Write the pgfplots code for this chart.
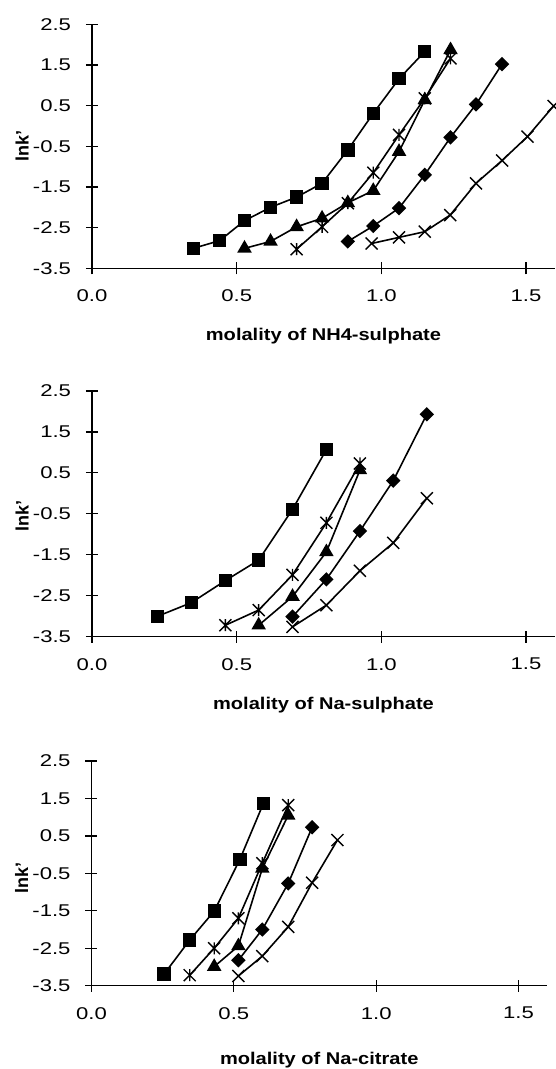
\documentclass[border=0pt]{standalone}
\usepackage{fontspec}
\setmainfont{Liberation Sans}
\usepackage{pgfplots}
\pgfplotsset{compat=1.18}

% plain cross and cross-with-bar marks
\pgfdeclareplotmark{xc}{%
  \pgfpathmoveto{\pgfqpoint{-\pgfplotmarksize}{-\pgfplotmarksize}}%
  \pgfpathlineto{\pgfqpoint{\pgfplotmarksize}{\pgfplotmarksize}}%
  \pgfpathmoveto{\pgfqpoint{-\pgfplotmarksize}{\pgfplotmarksize}}%
  \pgfpathlineto{\pgfqpoint{\pgfplotmarksize}{-\pgfplotmarksize}}%
  \pgfusepathqstroke}
\pgfdeclareplotmark{xs}{%
  \pgfpathmoveto{\pgfqpoint{-\pgfplotmarksize}{-\pgfplotmarksize}}%
  \pgfpathlineto{\pgfqpoint{\pgfplotmarksize}{\pgfplotmarksize}}%
  \pgfpathmoveto{\pgfqpoint{-\pgfplotmarksize}{\pgfplotmarksize}}%
  \pgfpathlineto{\pgfqpoint{\pgfplotmarksize}{-\pgfplotmarksize}}%
  \pgfpathmoveto{\pgfqpoint{0pt}{-\pgfplotmarksize}}%
  \pgfpathlineto{\pgfqpoint{0pt}{\pgfplotmarksize}}%
  \pgfusepathqstroke}

\newcommand{\tickfont}{\fontsize{17}{19}\selectfont}
\newcommand{\labfont}{\fontsize{17}{19}\selectfont\bfseries}

\pgfplotsset{
  panel/.style={
    scale only axis,
    xmin=0, xmax=1.6, ymin=-3.5, ymax=2.5,
    axis x line=bottom, axis y line=left,
    axis line style={-, line width=1.4pt},
    xtick={0,0.5,1,1.5}, xticklabels={0.0,0.5,1.0,1.5},
    ytick={-3.5,-2.5,-1.5,-0.5,0.5,1.5,2.5},
    yticklabels={-3.5,-2.5,-1.5,-0.5,0.5,1.5,2.5},
    tick align=center, major tick length=12pt,
    tick style={line width=1.2pt, black},
    xticklabel style={font=\tickfont, xscale=1.3, yshift=-12pt},
    yticklabel style={font=\tickfont, xscale=1.3, xshift=-8pt},
    ylabel={lnk'},
    every axis y label/.style={at={(axis description cs:0,0.5)}, xshift=-70pt, rotate=90, anchor=center, font=\fontsize{18}{20}\selectfont\bfseries},
    every axis x label/.style={at={(axis description cs:0.5,0)}, yshift=-68pt, anchor=center, xscale=1.18, font=\labfont},
    clip=false,
    every axis plot/.append style={black, line width=1.6pt, mark options={solid, line width=1.4pt}},
  },
  sq/.style={mark=square*, mark size=6pt},
  tri/.style={mark=triangle*, mark size=7pt},
  dia/.style={mark=square*, mark size=4.3pt, mark options={rotate=45}},
  st/.style={mark=xs, mark size=6pt},
  cr/.style={mark=xc, mark size=6pt},
}

\begin{document}
\begin{tikzpicture}

\begin{axis}[panel, at={(92pt,800.7pt)}, anchor=south west,
  width=463pt, height=244pt, xlabel={molality of NH4-sulphate}]
\addplot[sq] coordinates {(0.350,-3.01)(0.441,-2.82)(0.527,-2.33)(0.617,-2.00)(0.707,-1.75)(0.795,-1.41)(0.884,-0.59)(0.972,0.31)(1.061,1.16)(1.150,1.83)};
\addplot[tri] coordinates {(0.527,-3.01)(0.617,-2.84)(0.707,-2.48)(0.795,-2.27)(0.884,-1.89)(0.972,-1.59)(1.061,-0.63)(1.150,0.64)(1.239,1.87)};
\addplot[st] coordinates {(0.707,-3.03)(0.795,-2.48)(0.884,-1.90)(0.972,-1.15)(1.061,-0.22)(1.150,0.68)(1.239,1.66)};
\addplot[dia] coordinates {(0.884,-2.84)(0.972,-2.46)(1.061,-2.02)(1.150,-1.20)(1.239,-0.28)(1.327,0.53)(1.417,1.52)};
\addplot[cr] coordinates {(0.966,-2.89)(1.061,-2.74)(1.150,-2.60)(1.238,-2.19)(1.327,-1.41)(1.417,-0.85)(1.505,-0.26)(1.595,0.49)};
\end{axis}

\begin{axis}[panel, at={(92pt,432.3pt)}, anchor=south west,
  width=463pt, height=245.7pt, xlabel={molality of Na-sulphate},
  every axis y label/.append style={xshift=-2pt}]
\addplot[sq] coordinates {(0.227,-3.00)(0.343,-2.67)(0.461,-2.13)(0.576,-1.63)(0.693,-0.39)(0.810,1.07)};
\addplot[st] coordinates {(0.461,-3.22)(0.576,-2.85)(0.693,-1.99)(0.810,-0.72)(0.926,0.73)};
\addplot[tri] coordinates {(0.576,-3.22)(0.693,-2.52)(0.810,-1.43)(0.926,0.57)};
\addplot[dia] coordinates {(0.693,-3.01)(0.810,-2.10)(0.926,-0.92)(1.041,0.31)(1.157,1.93)};
\addplot[cr] coordinates {(0.693,-3.26)(0.810,-2.73)(0.926,-1.89)(1.041,-1.21)(1.157,-0.12)};
\end{axis}

\begin{axis}[panel, at={(91.5pt,83.3pt)}, anchor=south west,
  width=455.5pt, height=224.7pt, xlabel={molality of Na-citrate},
  every axis y label/.append style={xshift=-5pt},
  every axis x label/.style={at={(axis description cs:0.5,0)}, yshift=-74pt, anchor=center, xscale=1.18, font=\labfont}]
\addplot[sq] coordinates {(0.255,-3.19)(0.345,-2.28)(0.431,-1.51)(0.521,-0.13)(0.604,1.37)};
\addplot[st] coordinates {(0.345,-3.22)(0.431,-2.50)(0.516,-1.70)(0.600,-0.23)(0.691,1.32)};
\addplot[tri] coordinates {(0.431,-2.99)(0.516,-2.44)(0.600,-0.37)(0.691,1.05)};
\addplot[dia] coordinates {(0.516,-2.82)(0.600,-2.00)(0.691,-0.77)(0.775,0.73)};
\addplot[cr] coordinates {(0.516,-3.24)(0.600,-2.71)(0.691,-1.93)(0.775,-0.75)(0.864,0.39)};
\end{axis}

\pgfresetboundingbox
\useasboundingbox (0pt,0pt) rectangle (555pt,1069pt);
\end{tikzpicture}
\end{document}
